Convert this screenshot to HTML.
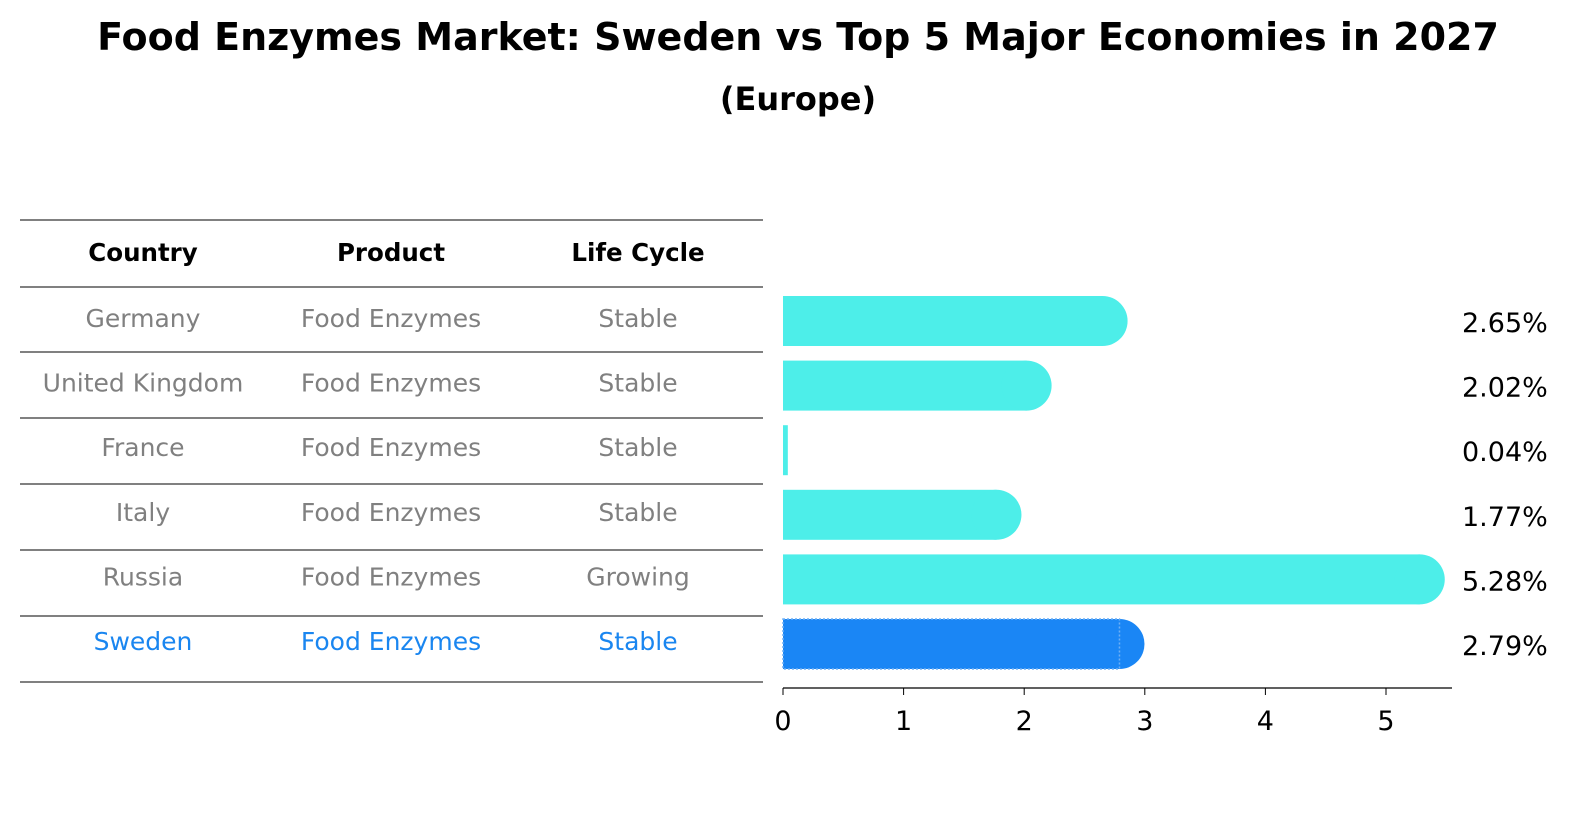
<!DOCTYPE html>
<html><head><meta charset="utf-8"><style>
html,body{margin:0;padding:0;overflow:hidden;background:#fff;font-family:"Liberation Sans","DejaVu Sans",sans-serif;}
svg{display:block;}
</style></head><body>
<svg width="1586" height="823" xmlns="http://www.w3.org/2000/svg" style="font-family:'DejaVu Sans','Liberation Sans',sans-serif">
<rect width="1586" height="823" fill="#fff"/>
<text x="798" y="50" text-anchor="middle" font-size="38" font-weight="bold">Food Enzymes Market: Sweden vs Top 5 Major Economies in 2027</text>
<text x="798" y="110" text-anchor="middle" font-size="32" font-weight="bold">(Europe)</text>
<g id="table"></g>
<g id="bars"></g>
</svg>
<script>
const countries=["Germany","United Kingdom","France","Italy","Russia","Sweden"];
const products=["Food Enzymes","Food Enzymes","Food Enzymes","Food Enzymes","Food Enzymes","Food Enzymes"];
const lifeCycles=["Stable","Stable","Stable","Stable","Growing","Stable"];
const values=[2.65,2.02,0.04,1.77,5.28,2.79];
const tickLabels=[0,1,2,3,4,5];
const NS="http://www.w3.org/2000/svg";
function mk(tag,attrs,parent){const e=document.createElementNS(NS,tag);for(const k in attrs)e.setAttribute(k,attrs[k]);parent.appendChild(e);return e;}
const xScale=v=>783+v*120.6;
const rowY=i=>321+i*64.6;
const tbl=document.getElementById('table');
const lineYs=[220,287,352,418,484,550,616,682];
lineYs.forEach(y=>{const l=mk('line',{x1:20,x2:763,y1:y,y2:y,stroke:'#000','stroke-width':1},tbl);

});
const colX=[143,391,638];
["Country","Product","Life Cycle"].forEach((h,j)=>{const t=mk('text',{x:colX[j],y:261,'text-anchor':'middle','font-size':24.5,'font-weight':'bold'},tbl);t.textContent=h;

});
countries.forEach((c,i)=>{const col=i===5?'#1a86f0':'#808080';
[c,products[i],lifeCycles[i]].forEach((s,j)=>{const t=mk('text',{x:colX[j],y:rowY(i)+6,'text-anchor':'middle','font-size':25,fill:col},tbl);t.textContent=s;

});});
const g=document.getElementById('bars');
values.forEach((v,i)=>{const col=i===5?'#1a86f5':'#4deee9';const y=rowY(i);const x1=xScale(v);
const r=mk('rect',{x:783,y:y-25,width:Math.max(x1-783,1),height:50,fill:col},g);


if(v>0.5){const c=mk('circle',{cx:x1,cy:y,r:25,fill:col},g);

}
if(i===5){const o=mk('rect',{x:783,y:y-25,width:x1-783,height:50,fill:'none',stroke:'#6fb0f5','stroke-width':1.5,'stroke-dasharray':'2,2'},g);

}
const t=mk('text',{x:1462,y:y+11,'font-size':27},g);t.textContent=v.toFixed(2)+'%';

});
const ax=mk('line',{x1:783,x2:1452,y1:688,y2:688,stroke:'#000','stroke-width':1.2},g);


tickLabels.forEach(v=>{const x=xScale(v);const tk=mk('line',{x1:x,x2:x,y1:688,y2:695,stroke:'#000'},g);


const t=mk('text',{x:x,y:730,'text-anchor':'middle','font-size':27},g);t.textContent=v;

});
</script>
</body></html>
